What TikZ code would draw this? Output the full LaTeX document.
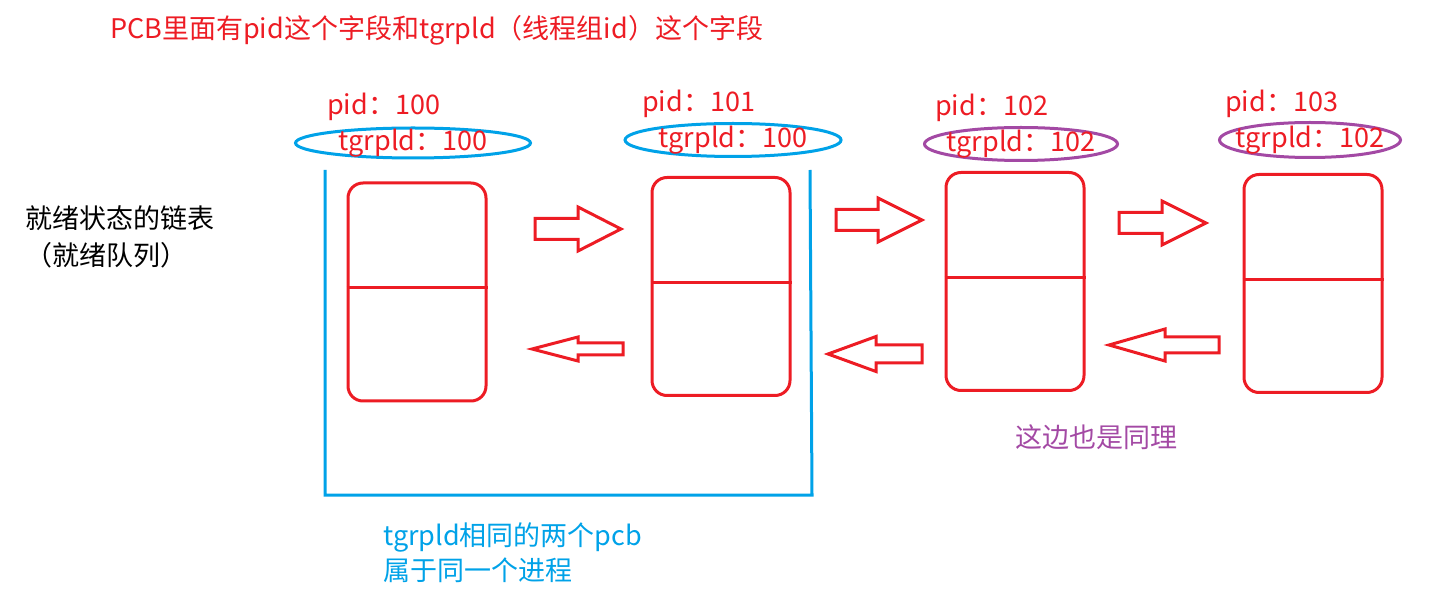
\documentclass[tikz,border=0pt]{standalone}
\usepackage{fontspec}
\setmainfont{Noto Sans CJK SC}
\usepackage{tikz}
\usetikzlibrary{shapes.geometric}
\definecolor{pred}{RGB}{237,28,36}
\definecolor{pblue}{RGB}{0,162,232}
\definecolor{ppurple}{RGB}{163,73,164}
% hollow block arrow: tail x, tip x, y, half shaft, half head, head base x
\newcommand{\blockarr}[6]{\draw[arr] (#1,#3-#4) -- (#6,#3-#4) -- (#6,#3-#5) -- (#2,#3) -- (#6,#3+#5) -- (#6,#3+#4) -- (#1,#3+#4) -- cycle;}

\begin{document}
\begin{tikzpicture}[x=1pt,y=-1pt,
	txt/.style={inner sep=0,anchor=west,font=\fontsize{27}{32}\selectfont},
	pcb/.style={draw=pred,line width=3pt,rounded corners=15pt,minimum width=138pt,minimum height=218pt,inner sep=0},
	grp/.style={ellipse,line width=3pt,inner sep=0,label={[inner sep=0,text=pred,font=\fontsize{27}{32}\selectfont]center:#1}},
	arr/.style={draw=pred,line width=3pt,line join=miter}]
	\useasboundingbox (0,0) rectangle (1443,593);
	\node [txt,text=pred] (title) at (110,30) {PCB里面有pid这个字段和tgrpld（线程组id）这个字段};
	\node [txt] (ready) at (25,218) {就绪状态的链表};
	\node [txt] (queue) at (25,255) {（就绪队列）};
	% pcb blocks
	\node [pcb] (p1) at (417,292) {};
	\node [pcb] (p2) at (721,286.5) {};
	\node [pcb] (p3) at (1015,281.5) {};
	\node [pcb] (p4) at (1313,283.5) {};
	\draw [pred,line width=3pt] ([yshift=4pt]p1.west) -- ([yshift=4pt]p1.east);
	\draw [pred,line width=3pt] ([yshift=4pt]p2.west) -- ([yshift=4pt]p2.east);
	\draw [pred,line width=3pt] ([yshift=4pt]p3.west) -- ([yshift=4pt]p3.east);
	\draw [pred,line width=3pt] ([yshift=4pt]p4.west) -- ([yshift=4pt]p4.east);
	% ids
	\node [txt,text=pred] (pid1) at (327,107) {pid：100};
	\node [txt,text=pred] (pid2) at (642,104) {pid：101};
	\node [txt,text=pred] (pid3) at (935,108) {pid：102};
	\node [txt,text=pred] (pid4) at (1225,104) {pid：103};
	\node [grp=tgrpld：100,draw=pblue,minimum width=235pt,minimum height=30pt] (tg1) at (413,143) {};
	\node [grp=tgrpld：100,draw=pblue,minimum width=216pt,minimum height=33pt] (tg2) at (733,140) {};
	\node [grp=tgrpld：102,draw=ppurple,minimum width=193pt,minimum height=33pt] (tg3) at (1021,144) {};
	\node [grp=tgrpld：102,draw=ppurple,minimum width=181pt,minimum height=35pt] (tg4) at (1310,140) {};
	% next / prev
	\blockarr{535}{621}{229}{10.5}{22}{578}
	\blockarr{623}{532}{349}{6}{12}{578}
	\blockarr{836}{922}{220}{10.5}{22}{878}
	\blockarr{922}{828}{354}{9}{17.5}{876}
	\blockarr{1119}{1206}{223}{10.5}{22}{1162}
	\blockarr{1219}{1109}{345}{8}{16}{1165}
	% same group
	\draw [pblue,line width=3pt] (325,170) -- (325,495) -- (812,495) -- (810,170);
	\node [txt,text=pblue] (same) at (383,537) {tgrpld相同的两个pcb};
	\node [txt,text=pblue] (proc) at (383,570) {属于同一个进程};
	\node [txt,text=ppurple] (also) at (1015,437) {这边也是同理};
\end{tikzpicture}
\end{document}
